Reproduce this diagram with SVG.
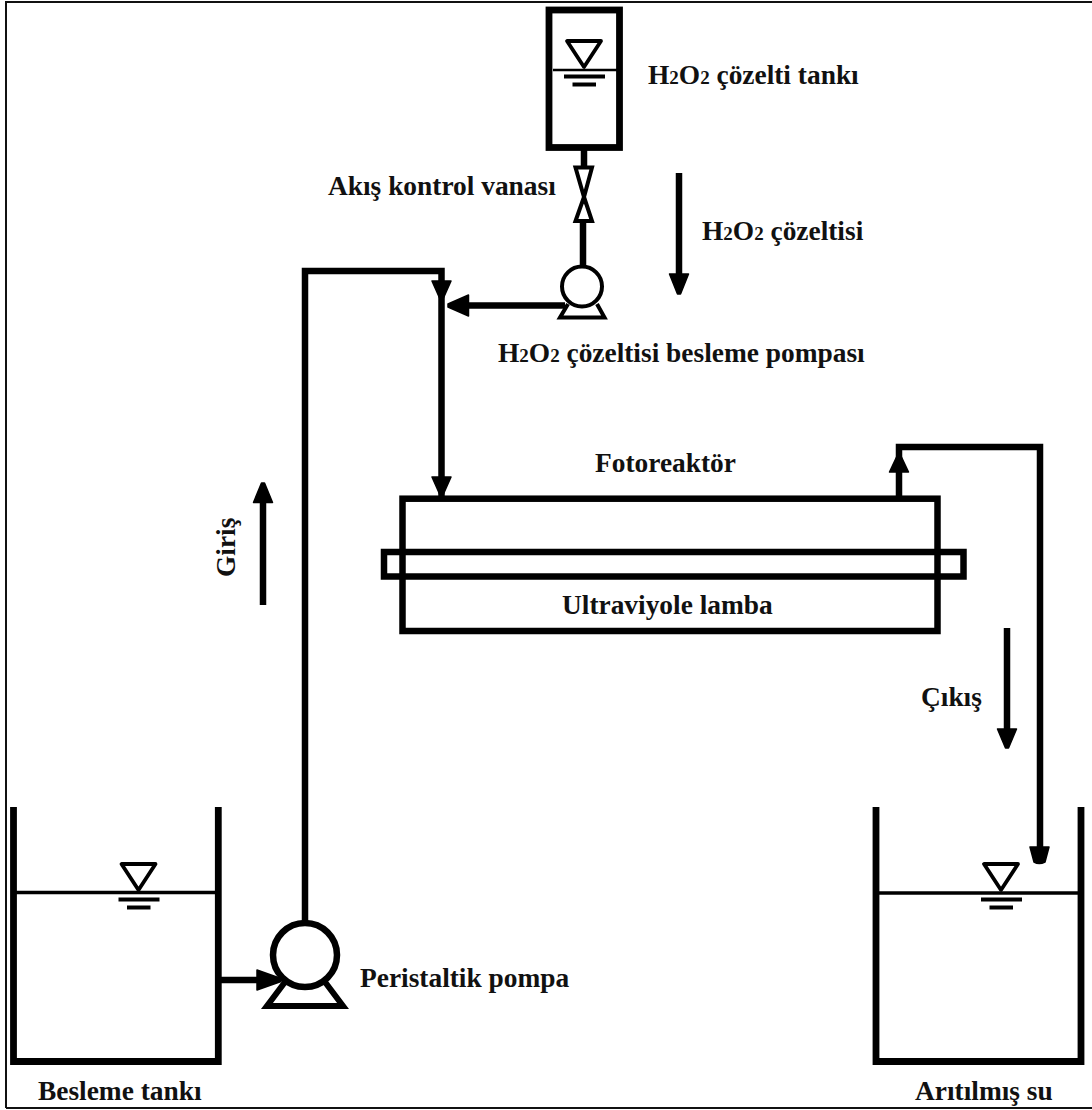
<svg xmlns="http://www.w3.org/2000/svg" width="1092" height="1110" viewBox="0 0 1092 1110">
<style>
.l{fill:none;stroke:#000;stroke-width:6.5}
.t{fill:none;stroke:#000;stroke-width:6.8}
.w{fill:none;stroke:#000;stroke-width:3.5}
.h{fill:#000;stroke:#000;stroke-width:1.5;stroke-linejoin:round}
text{font-family:"Liberation Serif","Times New Roman",serif;font-weight:bold;font-size:27.4px;fill:#111}
.s{font-size:19px}
</style>
<defs>
<g id="level"><path d="M-17 0H17L0 26Z" fill="#fff" stroke="#000" stroke-width="3.800" stroke-linejoin="round"/><path d="M-20 35.500H21" stroke="#000" stroke-width="4"/><path d="M-11.500 43.500H12" stroke="#000" stroke-width="4"/></g>
</defs>
<rect width="1092" height="1110" fill="#fff"/>
<path id="frame" d="M6 2H1092M6 1V1108M6 1108H1092" fill="none" stroke="#111" stroke-width="2"/>
<g id="connectors">
<path class="l" d="M584 150V168M583 221V268"/>
<path class="l" d="M305 922V271H441.500V497"/>
<path class="l" d="M565 305.500H460"/>
<path class="h" d="M432 281H451L443 299H440Z"/>
<path class="h" d="M468.500 295V316L448 307V304Z"/>
<path class="h" d="M432 477H451L443 495H440Z"/>
<path class="l" d="M221 980H262"/>
<path class="h" d="M257 970V990L281 981.500V978.500Z"/>
<path class="l" d="M899 497V447H1040V850"/>
<path class="h" d="M889.500 472H908.500L900.500 455H897.500Z"/>
<path class="h" d="M1030 847H1049L1045 862Q1039 865 1034 862Z"/>
<path class="l" d="M679 173V278"/><path class="h" d="M669.500 274H688.500L680.500 294H677.500Z"/>
<path class="l" d="M263 605V498"/><path class="h" d="M253.500 502.500H272.500L264.500 483H261.500Z"/>
<path class="l" d="M1007 628V733"/><path class="h" d="M997.500 729H1016.500L1008.500 748H1005.500Z"/>
</g>
<g id="h2o2-tank">
<rect class="t" x="549" y="10" width="70.500" height="137.500"/>
<path d="M553 70H617" stroke="#000" stroke-width="2.500"/>
<use href="#level" x="584" y="41"/>
<text x="648" y="83.500">H<tspan class="s">2</tspan>O<tspan class="s">2</tspan> çözelti tankı</text>
</g>
<g id="valve">
<path d="M575.500 167.500H592L584 197ZM584 197L592 221H575.500Z" fill="#fff" stroke="#000" stroke-width="4"/>
<text x="328" y="194.500">Akış kontrol vanası</text>
</g>
<g id="dosing-pump">
<circle cx="582" cy="286.500" r="20" fill="#fff" stroke="#000" stroke-width="4"/>
<path d="M568 304L560 317.500H604.500L597 304" fill="none" stroke="#000" stroke-width="4"/>
<text x="498" y="362">H<tspan class="s">2</tspan>O<tspan class="s">2</tspan> çözeltisi besleme pompası</text>
</g>
<g id="reactor">
<rect class="l" x="402.500" y="498.700" width="535" height="132.300"/>
<text x="595" y="472">Fotoreaktör</text>
</g>
<g id="lamp">
<rect class="l" x="384" y="552" width="579.500" height="24.500"/>
<text x="562" y="613.500">Ultraviyole lamba</text>
</g>
<g id="feed-tank">
<path class="t" d="M13.500 807V1061.500H218.300V807"/>
<path class="w" d="M16 892.500H216"/>
<use href="#level" x="138.500" y="864"/>
<text x="38" y="1100">Besleme tankı</text>
</g>
<g id="peristaltic-pump">
<circle cx="305" cy="955" r="32" fill="#fff" stroke="#000" stroke-width="6.500"/>
<path d="M285 982L267 1006H343L325 982" fill="none" stroke="#000" stroke-width="6"/>
<text x="360" y="986.500">Peristaltik pompa</text>
</g>
<g id="treated-tank">
<path class="t" d="M876 807V1061.500H1081V807"/>
<path class="w" d="M879 893H1079"/>
<use href="#level" x="1001" y="864"/>
<text x="915" y="1100">Arıtılmış su</text>
</g>
<g id="flow-labels">
<text x="702" y="240">H<tspan class="s">2</tspan>O<tspan class="s">2</tspan> çözeltisi</text>
<text transform="translate(235 577) rotate(-90)">Giriş</text>
<text x="921" y="706">Çıkış</text>
</g>
</svg>
